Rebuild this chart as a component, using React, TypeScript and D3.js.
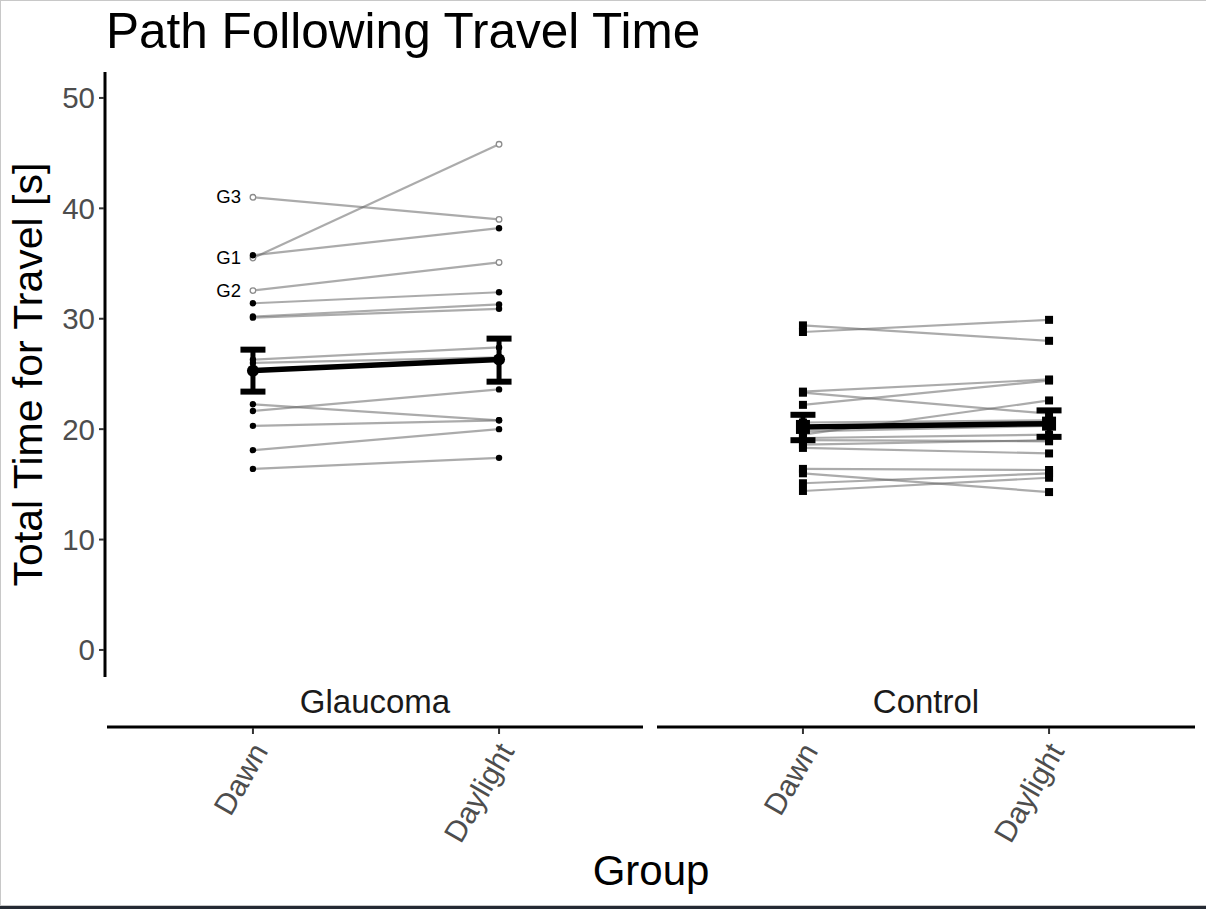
import React, { useEffect, useRef } from 'react';
import * as d3 from 'd3';

// Conditions and groups (facets)
const conditions = ['Dawn', 'Daylight'];
const groups = ['Glaucoma', 'Control'];

// Glaucoma participants: travel time [s]
const glaucomaIds = ['G1', 'G2', 'G3', 'G4', 'G5', 'G6', 'G7', 'G8', 'G9', 'G10', 'G11', 'G12', 'G13', 'G14'];
const glaucomaDawn = [35.5, 32.55, 41.0, 35.75, 31.4, 30.2, 30.1, 26.3, 26.0, 22.25, 21.65, 20.3, 18.1, 16.4];
const glaucomaDaylight = [45.8, 35.1, 39.0, 38.2, 32.4, 31.3, 30.9, 27.4, 26.5, 20.8, 23.6, 20.8, 20.0, 17.4];
const labelledIds = ['G1', 'G2', 'G3'];

// Control participants
const controlDawn = [29.4, 28.8, 23.4, 23.3, 22.2, 19.5, 20.6, 19.8, 19.2, 19.0, 18.6, 18.3, 16.4, 16.0, 15.1, 14.4];
const controlDaylight = [28.0, 29.9, 24.5, 21.4, 24.4, 22.6, 20.8, 20.3, 19.5, 18.9, 19.0, 17.8, 16.3, 14.3, 16.0, 15.6];

// Group summary (estimate +/- error), per group: [Glaucoma, Control]
const meanDawn = [25.3, 20.2];
const meanDaylight = [26.3, 20.5];
const lowDawn = [23.4, 19.0];
const highDawn = [27.2, 21.3];
const lowDaylight = [24.3, 19.3];
const highDaylight = [28.2, 21.7];

const yTicks = [0, 10, 20, 30, 40, 50];

const App: React.FC = () => {
  const svgRef = useRef<SVGSVGElement>(null);

  useEffect(() => {
    if (!svgRef.current) return;
    const svg = d3.select(svgRef.current);
    svg.selectAll('*').remove();

    const W = 1206;
    const H = 909;
    const font = '"Liberation Sans", Arial, sans-serif';

    svg.append('rect').attr('width', W).attr('height', H).attr('fill', '#fff');

    // window frame
    svg.append('line').attr('x1', 0).attr('x2', W).attr('y1', 0.5).attr('y2', 0.5).attr('stroke', '#c8c8c8');
    svg.append('line').attr('x1', 0.5).attr('x2', 0.5).attr('y1', 0).attr('y2', 906).attr('stroke', '#c8c8c8');
    svg.append('line').attr('x1', 0).attr('x2', W).attr('y1', 905.5).attr('y2', 905.5).attr('stroke', '#c8c8c8');
    svg.append('rect').attr('x', 0).attr('y', 906).attr('width', W).attr('height', 3).attr('fill', '#252a33');

    const yScale = d3.scaleLinear().domain([-2.45, 52.35]).range([677, 72]);

    const panelRanges: [number, number][] = [[108, 644], [658, 1194]];
    const axisRanges: [number, number][] = [[107, 643], [657, 1195]];
    const xScales = panelRanges.map(r =>
      d3.scalePoint<string>().domain(conditions).range(r).padding(0.589)
    );

    // Title
    svg.append('text')
      .attr('x', 106)
      .attr('y', 48)
      .style('font-family', font)
      .style('font-size', '49.5px')
      .attr('fill', '#000')
      .text('Path Following Travel Time');

    // Y axis
    svg.append('line')
      .attr('x1', 105).attr('x2', 105)
      .attr('y1', 72).attr('y2', 677)
      .attr('stroke', '#000').attr('stroke-width', 3);

    yTicks.forEach(t => {
      svg.append('line')
        .attr('x1', 99).attr('x2', 104)
        .attr('y1', yScale(t)).attr('y2', yScale(t))
        .attr('stroke', '#333').attr('stroke-width', 2);
      svg.append('text')
        .attr('x', 95)
        .attr('y', yScale(t) + 10.5)
        .attr('text-anchor', 'end')
        .style('font-family', font)
        .style('font-size', '29.5px')
        .attr('fill', '#4d4d4d')
        .text(String(t));
    });

    svg.append('text')
      .attr('transform', `translate(42, ${(72 + 677) / 2}) rotate(-90)`)
      .attr('text-anchor', 'middle')
      .style('font-family', font)
      .style('font-size', '41px')
      .attr('fill', '#000')
      .text('Total Time for Travel [s]');

    // X axis title
    svg.append('text')
      .attr('x', 651)
      .attr('y', 885)
      .attr('text-anchor', 'middle')
      .style('font-family', font)
      .style('font-size', '42px')
      .attr('fill', '#000')
      .text('Group');

    const lineColor = '#666666';
    const lineOpacity = 0.55;

    groups.forEach((group, gi) => {
      const x = xScales[gi];
      const [a0, a1] = axisRanges[gi];
      const g = svg.append('g').attr('class', `panel-${group}`);

      // strip label
      g.append('text')
        .attr('x', (a0 + a1) / 2)
        .attr('y', 713)
        .attr('text-anchor', 'middle')
        .style('font-family', font)
        .style('font-size', '33px')
        .attr('fill', '#1a1a1a')
        .text(group);

      // x axis line + ticks + labels
      g.append('line')
        .attr('x1', a0).attr('x2', a1)
        .attr('y1', 727).attr('y2', 727)
        .attr('stroke', '#000').attr('stroke-width', 3);

      conditions.forEach(c => {
        const cx = x(c) as number;
        g.append('line')
          .attr('x1', cx).attr('x2', cx)
          .attr('y1', 728).attr('y2', 734)
          .attr('stroke', '#333').attr('stroke-width', 2);
        g.append('text')
          .attr('transform', `translate(${cx + 16}, 751) rotate(-60)`)
          .attr('text-anchor', 'end')
          .style('font-family', font)
          .style('font-size', '30px')
          .attr('fill', '#4d4d4d')
          .text(c);
      });

      const dawn = gi === 0 ? glaucomaDawn : controlDawn;
      const daylight = gi === 0 ? glaucomaDaylight : controlDaylight;
      const xd = x('Dawn') as number;
      const xl = x('Daylight') as number;

      // individual lines
      dawn.forEach((v, i) => {
        g.append('line')
          .attr('x1', xd).attr('y1', yScale(v))
          .attr('x2', xl).attr('y2', yScale(daylight[i]))
          .attr('stroke', lineColor)
          .attr('stroke-opacity', lineOpacity)
          .attr('stroke-width', 2.2);
      });

      // individual points
      const drawPoint = (cx: number, v: number, open: boolean) => {
        if (gi === 1) {
          g.append('rect')
            .attr('x', cx - 4).attr('y', yScale(v) - 4)
            .attr('width', 8).attr('height', 8)
            .attr('fill', '#000');
        } else if (open) {
          g.append('circle')
            .attr('cx', cx).attr('cy', yScale(v)).attr('r', 2.8)
            .attr('fill', '#fff')
            .attr('stroke', '#8c8c8c').attr('stroke-width', 1.3);
        } else {
          g.append('circle')
            .attr('cx', cx).attr('cy', yScale(v)).attr('r', 3.2)
            .attr('fill', '#000');
        }
      };

      dawn.forEach((v, i) => {
        const open = gi === 0 && labelledIds.includes(glaucomaIds[i]);
        drawPoint(xd, v, open);
        drawPoint(xl, daylight[i], open);
      });

      // participant labels
      if (gi === 0) {
        glaucomaIds.forEach((id, i) => {
          if (!labelledIds.includes(id)) return;
          g.append('text')
            .attr('x', xd - 12)
            .attr('y', yScale(glaucomaDawn[i]) + 6)
            .attr('text-anchor', 'end')
            .style('font-family', font)
            .style('font-size', '18.5px')
            .attr('fill', '#000')
            .text(id);
        });
      }

      // summary line
      g.append('line')
        .attr('x1', xd).attr('y1', yScale(meanDawn[gi]))
        .attr('x2', xl).attr('y2', yScale(meanDaylight[gi]))
        .attr('stroke', '#000').attr('stroke-width', 5.5);

      // error bars
      const bars = [
        { cx: xd, lo: lowDawn[gi], hi: highDawn[gi], m: meanDawn[gi] },
        { cx: xl, lo: lowDaylight[gi], hi: highDaylight[gi], m: meanDaylight[gi] },
      ];
      bars.forEach(b => {
        g.append('line')
          .attr('x1', b.cx).attr('x2', b.cx)
          .attr('y1', yScale(b.lo)).attr('y2', yScale(b.hi))
          .attr('stroke', '#000').attr('stroke-width', 5);
        [b.lo, b.hi].forEach(v => {
          g.append('line')
            .attr('x1', b.cx - 12.5).attr('x2', b.cx + 12.5)
            .attr('y1', yScale(v)).attr('y2', yScale(v))
            .attr('stroke', '#000').attr('stroke-width', 6);
        });
        if (gi === 0) {
          g.append('circle')
            .attr('cx', b.cx).attr('cy', yScale(b.m)).attr('r', 6)
            .attr('fill', '#000');
        } else {
          g.append('rect')
            .attr('x', b.cx - 7).attr('y', yScale(b.m) - 7)
            .attr('width', 14).attr('height', 14)
            .attr('fill', '#000');
        }
      });
    });
  }, []);

  return (
    <svg
      ref={svgRef}
      width={1206}
      height={909}
      style={{ position: 'fixed', top: 0, left: 0, display: 'block' }}
    />
  );
};

export default App;
